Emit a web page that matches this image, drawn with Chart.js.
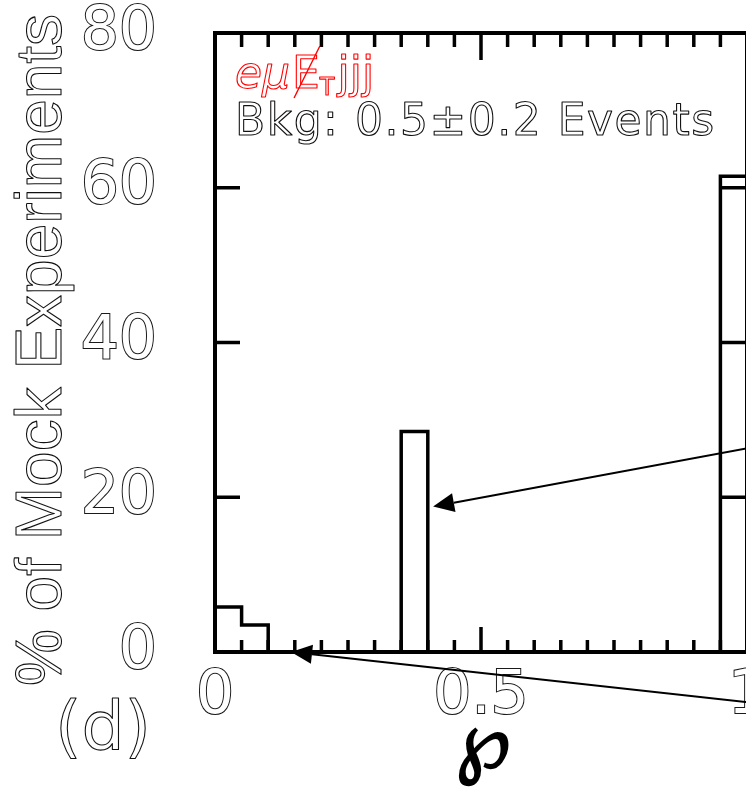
<!DOCTYPE html>
<html>
<head>
<meta charset="utf-8">
<script src="https://cdn.jsdelivr.net/npm/chart.js@4.4.1/dist/chart.umd.min.js"></script>
<style>
  html, body { margin: 0; padding: 0; overflow: hidden; background: #fff; width: 746px; height: 791px; }
  canvas { display: block; }
</style>
</head>
<body>
<canvas id="c" width="800" height="791"></canvas>
<script>
// Histogram of the probability ℘ over mock experiments (panel d, eμ + missing ET + 3 jets)
const binEdges = [0.00, 0.05, 0.10, 0.15, 0.20, 0.25, 0.30, 0.35, 0.40, 0.45, 0.50,
                  0.55, 0.60, 0.65, 0.70, 0.75, 0.80, 0.85, 0.90, 0.95, 1.00];
const percentValues = [5.8, 3.5, 0, 0, 0, 0, 0, 28.5, 0, 0,
                       0, 0, 0, 0, 0, 0, 0, 0, 0, 61.5];

const xTickValues = [0, 0.5, 1];
const xTickLabels = ['0', '0.5', '1'];
const xMinorTicks = [0.05, 0.10, 0.15, 0.20, 0.25, 0.30, 0.35, 0.40, 0.45,
                     0.55, 0.60, 0.65, 0.70, 0.75, 0.80, 0.85, 0.90, 0.95];
const yTickValues = [0, 20, 40, 60, 80];
const yTickLabels = ['0', '20', '40', '60', '80'];

// arrows: [x, y] in data units, tail starts to the right of the frame
const arrowTails = [[1.10, 27.6], [1.10, -7.25]];
const arrowTips  = [[0.41, 18.8], [0.143, 0.0]];

const channelColor = '#ff0000';
const bkgText = 'Bkg: 0.5\u00b10.2 Events';
const yTitle = '% of Mock Experiments';
const xTitle = '\u2118';
const panelTag = '(d)';

// step outline points: rise at the first edge, hold each bin value, drop at the last edge
const stepPoints = [{ x: binEdges[0], y: 0 }];
percentValues.forEach((v, i) => stepPoints.push({ x: binEdges[i], y: v }));
stepPoints.push({ x: binEdges[binEdges.length - 1], y: 0 });

const FONT = '"DejaVu Sans", sans-serif';

function outlineText(ctx, text, x, y, color, width) {
  ctx.lineWidth = width || 1.1;
  ctx.strokeStyle = color;
  ctx.lineJoin = 'round';
  ctx.strokeText(text, x, y);
}

const framePlugin = {
  id: 'frameAndTicks',
  afterDatasetsDraw(chart) {
    const { ctx, chartArea: a, scales: { x, y } } = chart;
    ctx.save();
    ctx.strokeStyle = '#000';
    ctx.lineCap = 'butt';
    // inward tick marks on all four sides
    ctx.lineWidth = 3.5;
    ctx.beginPath();
    xMinorTicks.forEach(v => {
      const px = x.getPixelForValue(v);
      ctx.moveTo(px, a.bottom); ctx.lineTo(px, a.bottom - 12);
      ctx.moveTo(px, a.top); ctx.lineTo(px, a.top + 14);
    });
    xTickValues.forEach(v => {
      const px = x.getPixelForValue(v);
      ctx.moveTo(px, a.bottom); ctx.lineTo(px, a.bottom - 25);
      ctx.moveTo(px, a.top); ctx.lineTo(px, a.top + 27);
    });
    yTickValues.forEach(v => {
      const py = y.getPixelForValue(v);
      ctx.moveTo(a.left, py); ctx.lineTo(a.left + 25, py);
      ctx.moveTo(a.right, py); ctx.lineTo(a.right - 25, py);
    });
    ctx.stroke();
    // frame
    ctx.lineWidth = 4;
    ctx.strokeRect(a.left, a.top, a.right - a.left, a.bottom - a.top);

    // arrows
    ctx.lineWidth = 2;
    ctx.fillStyle = '#000';
    arrowTails.forEach((t, i) => {
      const x0 = x.getPixelForValue(t[0]), y0 = y.getPixelForValue(t[1]);
      const x1 = x.getPixelForValue(arrowTips[i][0]), y1 = y.getPixelForValue(arrowTips[i][1]);
      const ang = Math.atan2(y1 - y0, x1 - x0);
      const len = 21, half = 9.5;
      const bx = x1 - len * Math.cos(ang), by = y1 - len * Math.sin(ang);
      ctx.beginPath();
      ctx.moveTo(x0, y0); ctx.lineTo(bx, by);
      ctx.stroke();
      ctx.beginPath();
      ctx.moveTo(x1, y1);
      ctx.lineTo(bx + half * Math.sin(ang), by - half * Math.cos(ang));
      ctx.lineTo(bx - half * Math.sin(ang), by + half * Math.cos(ang));
      ctx.closePath();
      ctx.fill();
    });
    ctx.restore();
  },
  afterDraw(chart) {
    const { ctx, chartArea: a } = chart;
    ctx.save();
    ctx.textAlign = 'left';
    ctx.textBaseline = 'alphabetic';

    // channel label: e mu, slashed E with subscript T, jjj
    const lx = a.left + 20, ly = 88;
    ctx.font = 'italic 44px ' + FONT;
    outlineText(ctx, 'e\u03bc', lx, ly, channelColor);
    let cx = lx + ctx.measureText('e\u03bc').width + 2;
    ctx.font = '44px ' + FONT;
    outlineText(ctx, 'E', cx, ly, channelColor);
    const wE = ctx.measureText('E').width;
    ctx.lineWidth = 1.4;
    ctx.beginPath();
    ctx.moveTo(cx + wE, ly - 42);
    ctx.lineTo(cx + 2, ly + 10);
    ctx.stroke();
    cx += wE;
    ctx.font = '24px ' + FONT;
    outlineText(ctx, 'T', cx, ly + 7, channelColor);
    cx += ctx.measureText('T').width + 3;
    ctx.font = '44px ' + FONT;
    outlineText(ctx, 'jjj', cx, ly, channelColor);

    // background estimate
    ctx.save();
    ctx.font = '44px ' + FONT;
    if ('letterSpacing' in ctx) ctx.letterSpacing = '1.5px';
    outlineText(ctx, bkgText, a.left + 20, 135, '#111');
    ctx.restore();

    // y-axis title
    ctx.save();
    ctx.translate(61, 350);
    ctx.rotate(-Math.PI / 2);
    ctx.textAlign = 'center';
    ctx.font = '64px "Liberation Sans", sans-serif';
    outlineText(ctx, yTitle, 0, 0, '#111');
    ctx.restore();

    // panel tag
    ctx.textAlign = 'center';
    ctx.font = '68px ' + FONT;
    outlineText(ctx, panelTag, 103, 750, '#111');

    // x-axis title
    ctx.font = 'bold italic 82px "DejaVu Serif", "DejaVu Sans", serif';
    ctx.fillStyle = '#000';
    ctx.fillText(xTitle, 483, 768);
    ctx.restore();
  }
};

const tickStyle = {
  font: { family: 'DejaVu Sans', size: 60, lineHeight: 1 },
  color: '#ffffff',
  textStrokeColor: '#1a1a1a',
  textStrokeWidth: 2,
  autoSkip: false,
  maxRotation: 0,
  minRotation: 0
};

new Chart(document.getElementById('c'), {
  type: 'line',
  data: {
    datasets: [{
      data: stepPoints,
      stepped: 'before',
      borderColor: '#000',
      borderWidth: 3.5,
      pointRadius: 0,
      fill: false,
      tension: 0
    }]
  },
  options: {
    responsive: false,
    animation: false,
    devicePixelRatio: 1,
    layout: { padding: { top: 33, right: 53, left: 0, bottom: 0 } },
    plugins: { legend: { display: false }, tooltip: { enabled: false } },
    scales: {
      x: {
        type: 'linear',
        min: 0, max: 1,
        grid: { display: false, drawTicks: false },
        border: { display: false },
        ticks: Object.assign({}, tickStyle, {
          padding: 15,
          callback: (v, i) => xTickLabels[i]
        }),
        afterBuildTicks: s => { s.ticks = xTickValues.map(v => ({ value: v })); },
        afterFit: s => { s.height = 139; s.paddingLeft = 0; s.paddingRight = 0; }
      },
      y: {
        type: 'linear',
        min: 0, max: 80,
        grid: { display: false, drawTicks: false },
        border: { display: false },
        ticks: Object.assign({}, tickStyle, {
          padding: 58,
          callback: (v, i) => yTickLabels[i]
        }),
        afterBuildTicks: s => { s.ticks = yTickValues.map(v => ({ value: v })); },
        afterFit: s => { s.width = 215; s.paddingTop = 0; s.paddingBottom = 0; }
      }
    }
  },
  plugins: [framePlugin]
});
</script>
</body>
</html>
